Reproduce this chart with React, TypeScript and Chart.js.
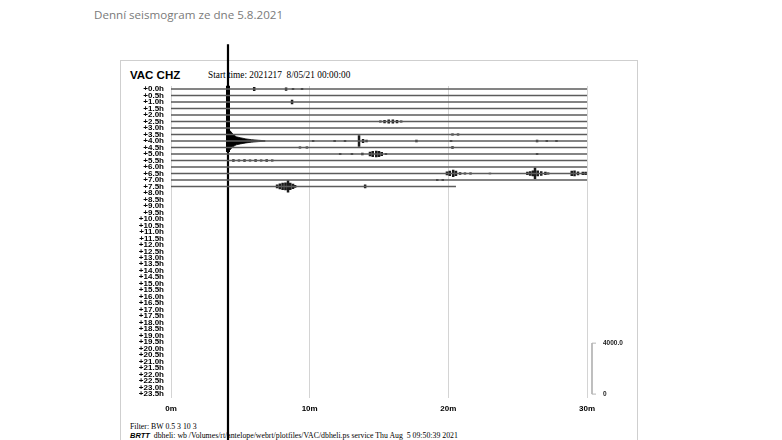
import { useEffect, useRef } from 'react';
import { Chart, registerables } from 'chart.js';

Chart.register(...registerables);

// ---------- data ----------
const rowLabels = [
  '+0.0h', '+0.5h', '+1.0h', '+1.5h', '+2.0h', '+2.5h', '+3.0h', '+3.5h',
  '+4.0h', '+4.5h', '+5.0h', '+5.5h', '+6.0h', '+6.5h', '+7.0h', '+7.5h',
  '+8.0h', '+8.5h', '+9.0h', '+9.5h', '+10.0h', '+10.5h', '+11.0h', '+11.5h',
  '+12.0h', '+12.5h', '+13.0h', '+13.5h', '+14.0h', '+14.5h', '+15.0h', '+15.5h',
  '+16.0h', '+16.5h', '+17.0h', '+17.5h', '+18.0h', '+18.5h', '+19.0h', '+19.5h',
  '+20.0h', '+20.5h', '+21.0h', '+21.5h', '+22.0h', '+22.5h', '+23.0h', '+23.5h',
];

const xTickValues = [0, 10, 20, 30];
const xTickLabels = ['0m', '10m', '20m', '30m'];

// recorded trace rows and the minute where each ends
const traceRows = [0, 1, 2, 3, 4, 5, 6, 7, 8, 9, 10, 11, 12, 13, 14, 15];
const traceEnds = [30, 30, 30, 30, 30, 30, 30, 30, 30, 30, 30, 30, 30, 30, 30, 20.55];

// local events (row, minute, half amplitude in rows)
const eventRows = [
  0, 0, 0, 0,
  2,
  5, 5, 5, 5, 5, 5,
  7, 7,
  8, 8, 8, 8, 8, 8, 8, 8, 8, 8, 8,
  9, 9, 9,
  10, 10, 10, 10, 10, 10, 10, 10, 10, 10,
  11, 11, 11, 11, 11, 11, 11, 11,
  13, 13, 13, 13, 13, 13, 13, 13, 13, 13, 13, 13, 13, 13, 13, 13, 13, 13, 13, 13, 13,
  14, 14,
  15, 15, 15, 15, 15, 15, 15, 15, 15,
];
const eventMins = [
  6.0, 8.3, 8.8, 9.45,
  8.73,
  15.1, 15.4, 15.7, 16.0, 16.3, 16.6,
  20.3, 20.7,
  10.25, 11.8, 12.55, 13.56, 13.85, 14.1, 17.7, 20.2, 26.4, 27.1, 27.8,
  9.3, 9.8, 20.3,
  12.2, 13.05, 13.8, 14.35, 14.55, 14.8, 15.0, 15.2, 15.5, 26.4,
  4.5, 4.9, 5.3, 5.7, 6.1, 6.5, 6.9, 7.3,
  19.9, 20.1, 20.35, 20.55, 20.85, 21.2, 21.6, 25.7, 25.9, 26.1, 26.25, 26.45, 26.7, 27.0, 27.2, 28.9, 29.1, 29.35, 29.7, 29.9, 23.0,
  19.2, 19.6,
  7.65, 7.85, 8.05, 8.25, 8.44, 8.6, 8.8, 8.95, 14.0,
];
const eventAmps = [
  0.3, 0.25, 0.15, 0.15,
  0.35,
  0.15, 0.25, 0.3, 0.3, 0.25, 0.15,
  0.15, 0.15,
  0.15, 0.15, 0.15, 0.9, 0.3, 0.2, 0.2, 0.15, 0.2, 0.15, 0.15,
  0.15, 0.15, 0.2,
  0.15, 0.15, 0.2, 0.35, 0.45, 0.5, 0.45, 0.3, 0.15, 0.15,
  0.2, 0.15, 0.2, 0.15, 0.2, 0.15, 0.2, 0.15,
  0.3, 0.4, 0.55, 0.4, 0.2, 0.15, 0.15, 0.25, 0.35, 0.45, 0.9, 0.45, 0.35, 0.25, 0.15, 0.4, 0.45, 0.3, 0.25, 0.25, 0.12,
  0.15, 0.15,
  0.3, 0.45, 0.55, 0.6, 0.95, 0.55, 0.4, 0.2, 0.3,
];

// the big earthquake
const quakeMin = 4.11;
const spikeTopRow = -6.9;
const spikeBottomRow = 56;
const spikeCoreTopRow = -0.5;
const spikeCoreBottomRow = 9.7;

const codaRow = 8;
const codaMins = [4.1, 4.25, 4.45, 4.7, 5.0, 5.4, 5.8, 6.3, 6.8];
const codaUp = [1.9, 1.6, 1.1, 0.65, 0.5, 0.32, 0.2, 0.11, 0.03];
const codaDown = [1.7, 1.4, 0.9, 0.6, 0.45, 0.3, 0.18, 0.1, 0.03];

// amplitude scale bar
const scaleBarMin = 30.36;
const scaleBarTickMin = 30.65;
const scaleBarLabelMin = 31.15;
const scaleBarRows = [39.15, 47.0];
const scaleBarLabels = ['4000.0', '0'];

// ---------- component ----------
const W = 782;
const H = 440;

export default function App() {
  const ref = useRef<HTMLCanvasElement | null>(null);

  useEffect(() => {
    if (!ref.current) return;

    const traceData: any[] = [];
    traceRows.forEach((r, i) => {
      traceData.push({ x: 0, y: r }, { x: traceEnds[i], y: r }, { x: traceEnds[i], y: null });
    });

    const eventData: any[] = [];
    eventRows.forEach((r, i) => {
      eventData.push(
        { x: eventMins[i], y: r - eventAmps[i] },
        { x: eventMins[i], y: r + eventAmps[i] },
        { x: eventMins[i], y: null },
      );
    });

    const codaUpper = codaMins.map((m, i) => ({ x: m, y: codaRow - codaUp[i] }));
    const codaLower = codaMins.map((m, i) => ({ x: m, y: codaRow + codaDown[i] }));

    const scaleBarData = [
      { x: scaleBarTickMin, y: scaleBarRows[0] },
      { x: scaleBarMin, y: scaleBarRows[0] },
      { x: scaleBarMin, y: scaleBarRows[1] },
      { x: scaleBarTickMin, y: scaleBarRows[1] },
    ];

    const labelPlugin = {
      id: 'scaleBarLabels',
      afterDatasetsDraw(chart: any) {
        const { ctx, scales } = chart;
        ctx.save();
        ctx.fillStyle = '#222';
        ctx.font = 'bold 6.5px "Liberation Sans", Arial, sans-serif';
        ctx.textAlign = 'left';
        ctx.textBaseline = 'middle';
        scaleBarLabels.forEach((t, i) => {
          ctx.fillText(t, scales.x.getPixelForValue(scaleBarLabelMin), scales.y.getPixelForValue(scaleBarRows[i]));
        });
        ctx.restore();
      },
    };

    const chart = new Chart(ref.current, {
      type: 'line',
      data: {
        datasets: [
          {
            data: traceData,
            borderColor: '#5c5c5c',
            borderWidth: 1.5,
            pointRadius: 0,
            spanGaps: false,
          },
          {
            data: eventData,
            borderColor: '#1a1a1a',
            borderWidth: 2.5,
            pointRadius: 0,
            spanGaps: false,
          },
          {
            data: codaUpper,
            borderColor: '#000',
            backgroundColor: '#000',
            borderWidth: 0.8,
            pointRadius: 0,
            fill: '+1',
          },
          {
            data: codaLower,
            borderColor: '#000',
            borderWidth: 0.8,
            pointRadius: 0,
          },
          {
            data: [
              { x: quakeMin, y: spikeTopRow },
              { x: quakeMin, y: spikeBottomRow },
            ],
            borderColor: '#000',
            borderWidth: 2.2,
            pointRadius: 0,
            clip: false,
          },
          {
            data: [
              { x: quakeMin, y: spikeCoreTopRow },
              { x: quakeMin, y: spikeCoreBottomRow },
            ],
            borderColor: '#000',
            borderWidth: 4,
            pointRadius: 0,
            clip: false,
          },
          {
            data: scaleBarData,
            borderColor: '#b5b5b5',
            borderWidth: 1,
            pointRadius: 0,
            clip: false,
          },
        ] as any,
      },
      options: {
        animation: false,
        responsive: false,
        events: [],
        layout: { padding: { left: 120, right: 195, top: 86, bottom: 22 } },
        plugins: {
          legend: { display: false },
          tooltip: { enabled: false },
          title: { display: false },
        },
        scales: {
          x: {
            type: 'linear',
            min: 0,
            max: 30,
            offset: false,
            afterBuildTicks: (axis: any) => {
              axis.ticks = xTickValues.map((v) => ({ value: v }));
            },
            afterFit: (axis: any) => {
              axis.height = 20;
            },
            ticks: {
              autoSkip: false,
              maxRotation: 0,
              padding: 6,
              color: '#000',
              font: { family: '"Liberation Sans", Arial, sans-serif', weight: 'bold', size: 8 },
              callback: (_v: any, i: number) => xTickLabels[i],
            },
            grid: { color: '#d4d4d4', lineWidth: 1, drawTicks: false, offset: false },
            border: { display: false },
          },
          y: {
            type: 'linear',
            reverse: true,
            min: -0.47,
            max: 47.6,
            afterBuildTicks: (axis: any) => {
              axis.ticks = rowLabels.map((_l, i) => ({ value: i }));
            },
            afterFit: (axis: any) => {
              axis.width = 51;
            },
            ticks: {
              autoSkip: false,
              padding: 7,
              color: '#000',
              font: { family: '"Liberation Sans", Arial, sans-serif', weight: 'bold', size: 8, lineHeight: 1 },
              callback: (_v: any, i: number) => rowLabels[i],
            },
            grid: { display: false, drawTicks: false },
            border: { display: false },
          },
        },
      } as any,
      plugins: [labelPlugin],
    });

    return () => chart.destroy();
  }, []);

  const serif = '"Liberation Serif", "Times New Roman", serif';
  const sans = '"Liberation Sans", Arial, sans-serif';

  return (
    <div style={{ position: 'absolute', left: 0, top: 0, width: W, height: H, overflow: 'hidden', background: '#fff' }}>
      <div
        style={{
          position: 'absolute', left: 94, top: 5, fontFamily: '"Open Sans", sans-serif',
          fontSize: 11.6, color: '#7a7a7a', lineHeight: '20px', whiteSpace: 'nowrap',
        }}
      >
        Denní seismogram ze dne 5.8.2021
      </div>
      <div
        style={{
          position: 'absolute', left: 120, top: 60, width: 518, height: 400,
          border: '1px solid #cfcfcf', boxSizing: 'border-box',
        }}
      />
      <div
        style={{
          position: 'absolute', left: 130, top: 68, fontFamily: sans, fontWeight: 'bold',
          fontSize: 11.5, lineHeight: '14px', color: '#000', whiteSpace: 'nowrap',
        }}
      >
        VAC CHZ
      </div>
      <div
        style={{
          position: 'absolute', left: 208, top: 69, fontFamily: serif, fontSize: 9.3,
          lineHeight: '12px', color: '#000', whiteSpace: 'pre',
        }}
      >
        {'Start time: 2021217  8/05/21 00:00:00'}
      </div>
      <div
        style={{
          position: 'absolute', left: 130, top: 422, fontFamily: serif, fontSize: 7.8,
          lineHeight: '10px', color: '#000', whiteSpace: 'pre',
        }}
      >
        {'Filter: BW 0.5 3 10 3'}
      </div>
      <div
        style={{
          position: 'absolute', left: 130, top: 431, fontFamily: serif, fontSize: 7.8,
          lineHeight: '10px', color: '#000', whiteSpace: 'pre',
        }}
      >
        <span style={{ fontFamily: sans, fontWeight: 'bold', fontStyle: 'italic', fontSize: 7.5 }}>BRTT</span>
        {'  dbheli: wb /Volumes/rt/antelope/webrt/plotfiles/VAC/dbheli.ps service Thu Aug  5 09:50:39 2021'}
      </div>
      <canvas
        ref={ref}
        width={W}
        height={H}
        style={{ position: 'absolute', left: 0, top: 0, width: W, height: H }}
      />
    </div>
  );
}
